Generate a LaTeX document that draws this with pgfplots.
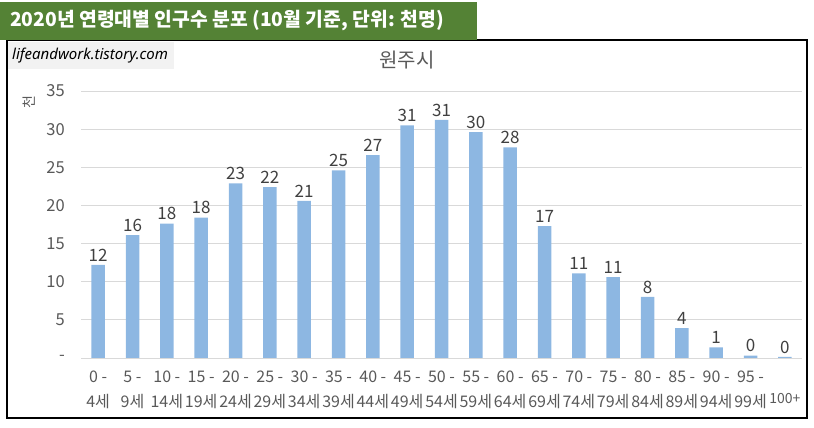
\documentclass[border=0pt]{standalone}
\usepackage{fontspec}
\setmainfont{Noto Sans CJK KR}
\newfontfamily\latinfont{Noto Sans}
\usepackage{pgfplots}
\pgfplotsset{compat=1.18}
\definecolor{barblue}{RGB}{141,183,226}
\definecolor{titlegreen}{RGB}{84,130,53}
\definecolor{txtgray}{RGB}{89,89,89}
\definecolor{lblgray}{RGB}{64,64,64}
\definecolor{gridgray}{RGB}{217,217,217}
\definecolor{boxgray}{RGB}{242,242,242}
\begin{document}
\begin{tikzpicture}[x=1pt,y=1pt]
\path[use as bounding box] (0,0) rectangle (814,428);
\draw[line width=1.2pt] (7,10) rectangle (807,388);
\fill[titlegreen] (0,388) rectangle (477,426);
\node[anchor=west, text=white, font=\bfseries\fontsize{19.3}{22}\selectfont, inner sep=0] at (10,407) {2020년 연령대별 인구수 분포 (10월 기준, 단위: 천명)};
\fill[boxgray] (8,359) rectangle (174,386);
\node[anchor=west, inner sep=0, font=\latinfont\itshape\fontsize{15}{16}\selectfont] at (12,372.5) {lifeandwork.tistory.com};
\node[font=\fontsize{20}{22}\selectfont, text=txtgray] at (407,368) {원주시};
\node[rotate=90, font=\fontsize{14}{14}\selectfont, text=txtgray] at (29,326) {천};
\begin{axis}[
  at={(81pt,70pt)}, anchor=south west, scale only axis,
  width=721pt, height=267pt,
  ybar, bar width=13.5pt,
  xmin=-0.5, xmax=20.5, ymin=0, ymax=35,
  ytick={0,5,...,35}, yticklabels={-,5,10,15,20,25,30,35},
  xtick={0,...,20},
  xticklabels={{0 -\\4세},{5 -\\9세},{10 -\\14세},{15 -\\19세},{20 -\\24세},{25 -\\29세},{30 -\\34세},{35 -\\39세},{40 -\\44세},{45 -\\49세},{50 -\\54세},{55 -\\59세},{60 -\\64세},{65 -\\69세},{70 -\\74세},{75 -\\79세},{80 -\\84세},{85 -\\89세},{90 -\\94세},{95 -\\99세},{\phantom{1}\\[-4pt]{\fontsize{14}{16}\selectfont 100+}}},
  axis x line*=bottom, axis y line*=left,
  x axis line style={draw=gridgray, line width=0.8pt, -},
  y axis line style={draw=none},
  major tick length=0pt,
  ymajorgrids, grid style={draw=gridgray, line width=0.8pt},
  xticklabel style={align=center, text=txtgray, font=\fontsize{16}{25}\selectfont, inner sep=0pt, yshift=-13pt},
  yticklabel style={text=txtgray, font=\fontsize{16.5}{17}\selectfont, inner sep=0pt, xshift=-16pt},
  nodes near coords,
  nodes near coords style={text=lblgray, font=\fontsize{17}{18}\selectfont, /pgf/number format/fixed, /pgf/number format/precision=0, /pgf/number format/assume math mode=true},
  point meta=y,
  clip=false,
]
\addplot[fill=barblue, draw=none] coordinates {
(0,12.2) (1,16.1) (2,17.6) (3,18.4) (4,22.9) (5,22.4) (6,20.6) (7,24.6) (8,26.6) (9,30.5)
(10,31.2) (11,29.6) (12,27.6) (13,17.3) (14,11.1) (15,10.6) (16,8.0) (17,3.9) (18,1.4) (19,0.3) (20,0.15)
};
\end{axis}
\end{tikzpicture}
\end{document}
